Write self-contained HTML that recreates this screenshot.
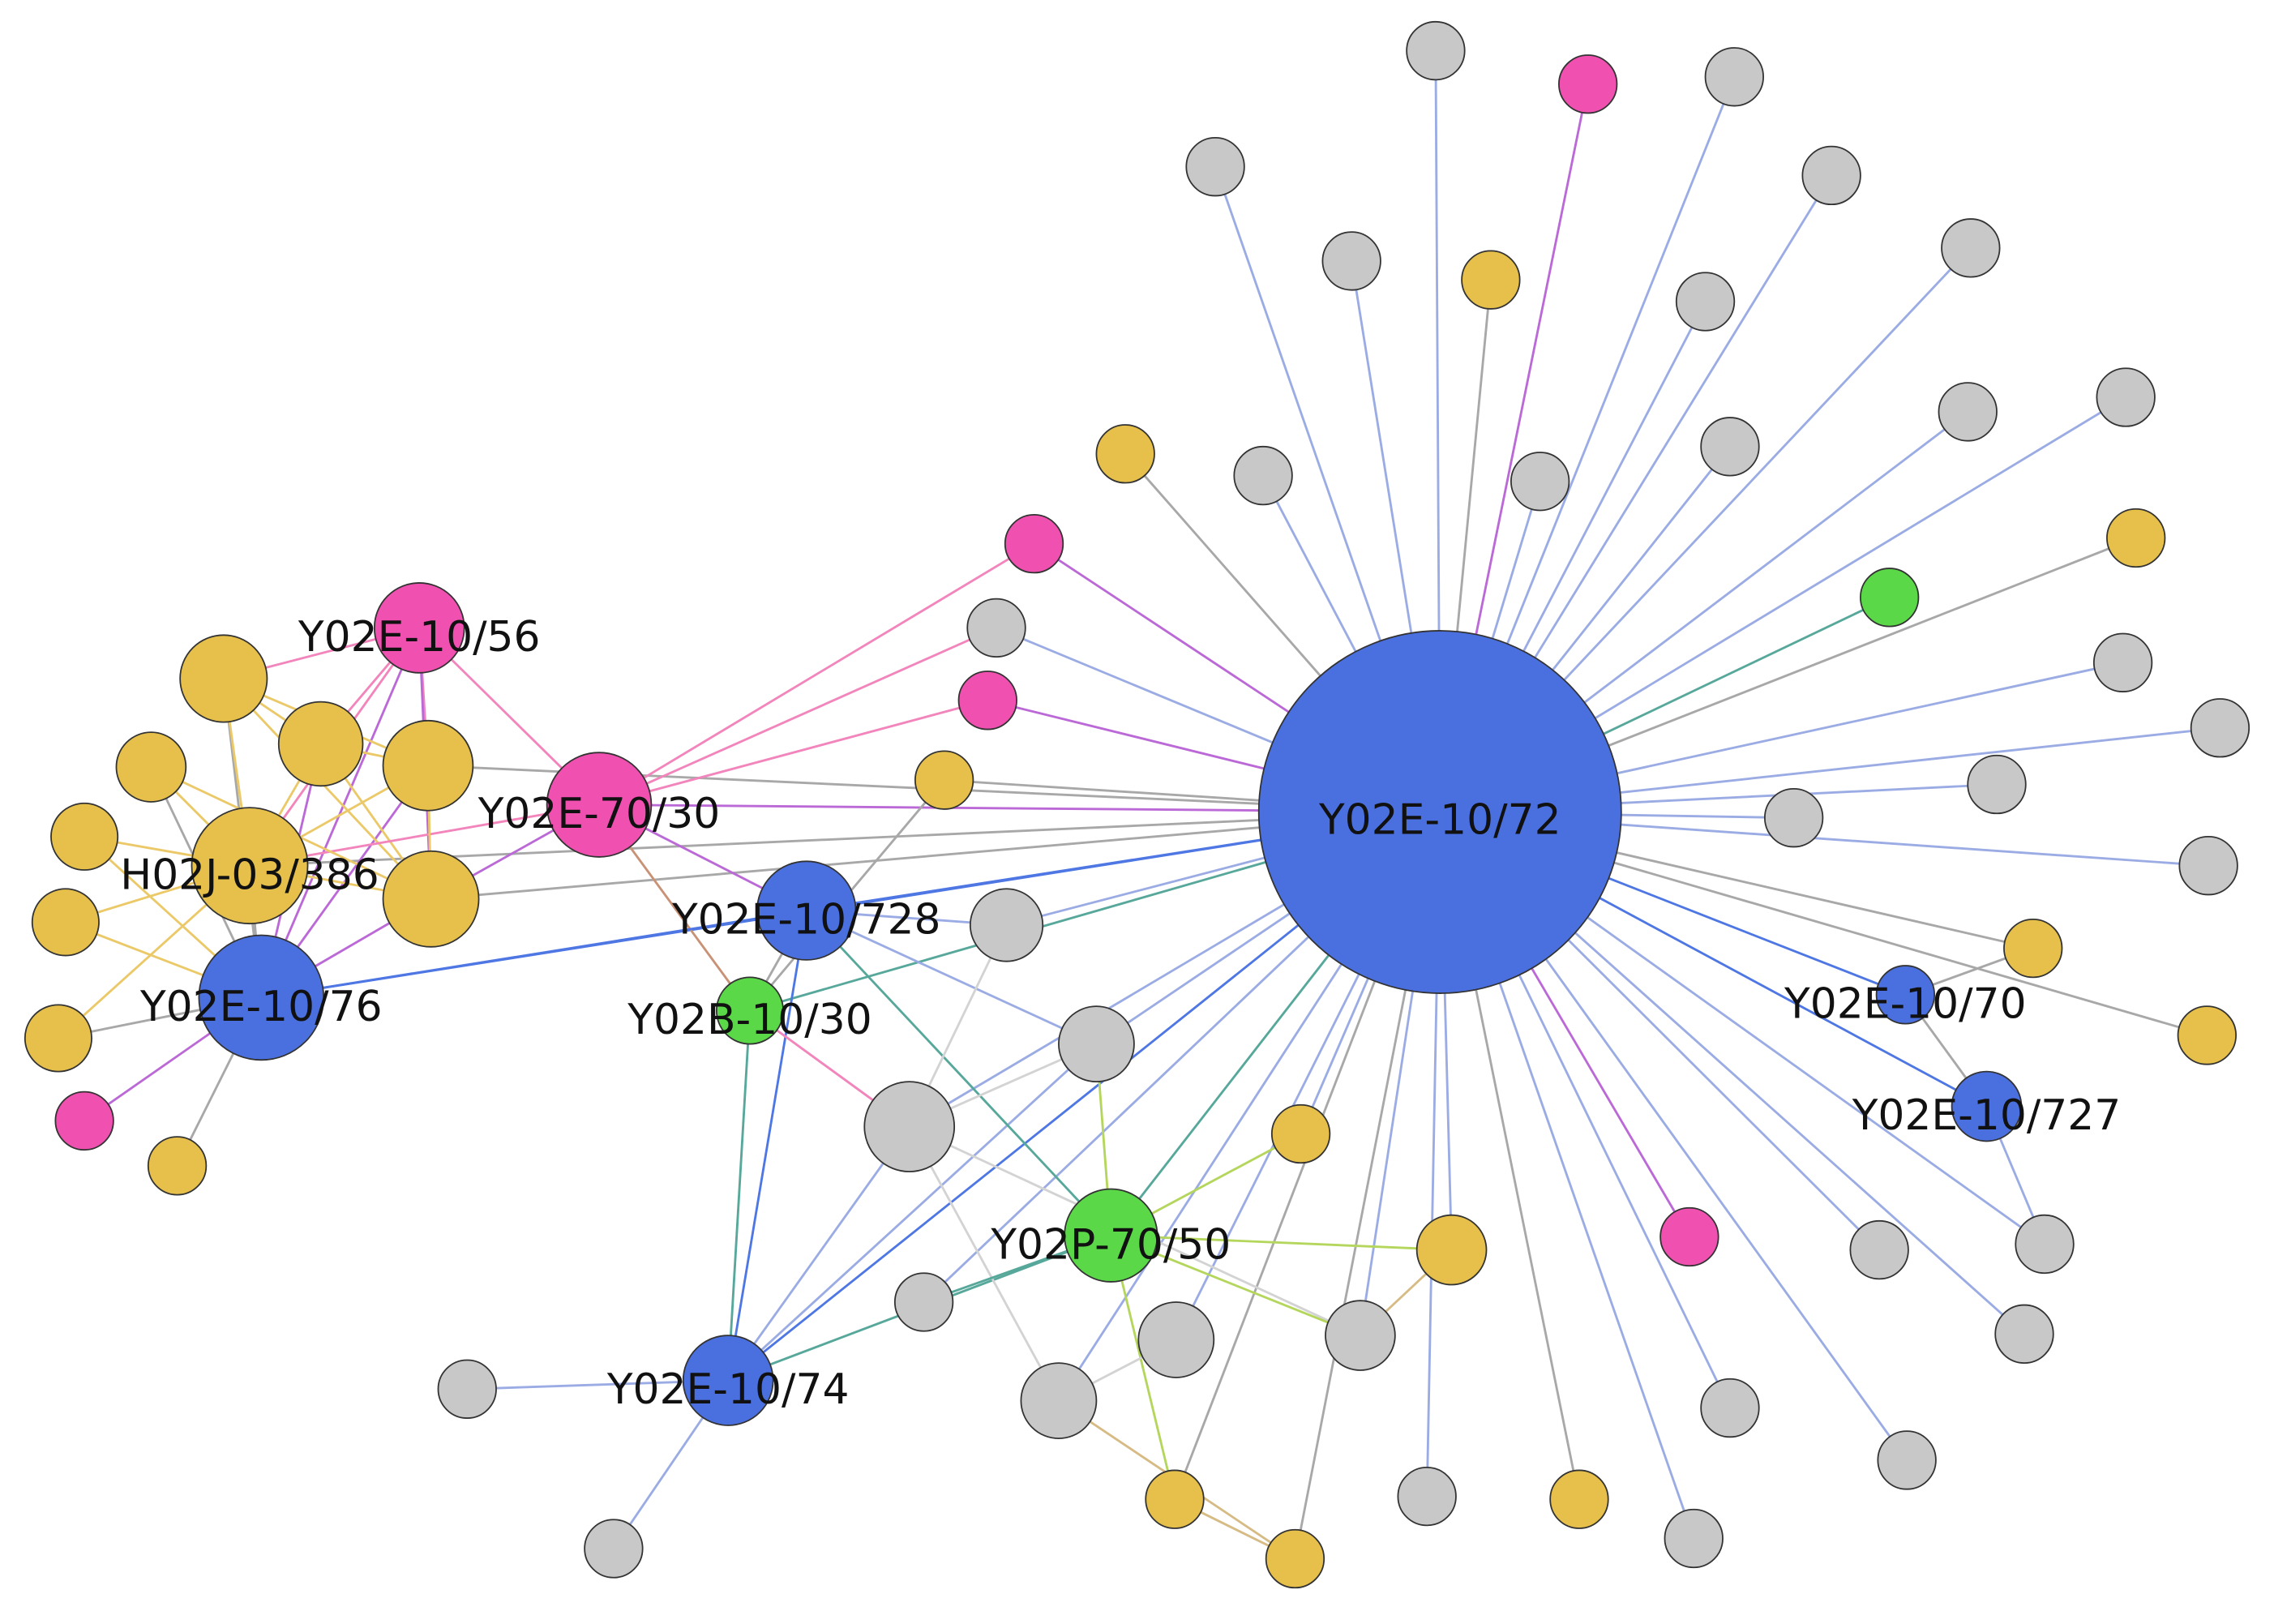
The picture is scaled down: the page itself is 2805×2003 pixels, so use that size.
<!DOCTYPE html>
<html><head><meta charset="utf-8"><style>
html,body{margin:0;padding:0;background:#fff;}
svg{display:block;}
text{font-family:"DejaVu Sans","Liberation Sans",sans-serif;font-size:29px;fill:#111;}
</style></head><body>
<svg width="2805" height="2003" viewBox="0 0 1568 1120" xmlns="http://www.w3.org/2000/svg">
<rect width="1568" height="1120" fill="#fff"/>
<g id="edges" stroke-width="1.6" fill="none" opacity="0.85"></g>
<g id="nodes" stroke="#333" stroke-width="1"></g>
<g id="labels"></g>
<script>
const H=[993,560];
const B='#8a9ee0',G='#999',P='#b050d0',K='#f070b0',T='#3a9a8a',Y='#e8c050',L='#a8d040',DB='#3060e0',LG='#ccc';
const N={};
function n(id,x,y,r,c){N[id]=[x,y,r,c];}
const gray='#c8c8c8',yel='#e6c04a',pink='#f050b0',blue='#4a70e0',grn='#5ad848';
n('hub',993,560,125,blue);
const ring=[['a',990,35,gray,B],['b',1095,58,pink,P],['c',1196,53,gray,B],['d',838,115,gray,B],['e',1263,121,gray,B],['f',932,180,gray,B],['g',1028,193,yel,G],['h',1176,208,gray,B],['i',1359,171,gray,B],['j',776,313,yel,G],['k',871,328,gray,B],['l',1062,332,gray,B],['m',1193,308,gray,B],['o',1357,284,gray,B],['p',1466,274,gray,B],['q',1473,371,yel,G],['r',1303,412,grn,T],['s',1464,457,gray,B],['t',1531,502,gray,B],['u',1377,541,gray,B],['v',1237,564,gray,B],['w',1523,597,gray,B],['x',1402,654,yel,G],['y',1522,714,yel,G],['z',1410,858,gray,B],['A',1396,920,gray,B],['C',1296,862,gray,B],['D',1165,853,pink,P],['E',1315,1007,gray,B],['F',1193,971,gray,B],['Gg',1168,1061,gray,B],['Hh',1089,1034,yel,G],['I',984,1032,gray,B],['J',893,1075,yel,G],['Kk',810,1034,yel,G],['Ll',938,921,gray,B],['M',1001,862,yel,B],['Nn',897,782,yel,B],['O',811,924,gray,B],['Pp',730,966,gray,B],['Q',637,898,gray,B],['R',627,777,gray,B],['S',756,720,gray,B],['Tt',694,638,gray,B],['U',713,375,pink,P],['V',687,433,gray,B],['W',681,483,pink,P],['X',651,538,yel,G]];
const edges=[];
ring.forEach(a=>{n(a[0],a[1],a[2],20,a[3]);edges.push([a[0],'hub',a[4]]);});
N.O[2]=26;N.Pp[2]=26;N.R[2]=31;N.S[2]=26;N.Tt[2]=25;N.M[2]=24;N.Ll[2]=24;
n('b70',1314,686,20,blue);n('b727',1370,763,24,blue);
n('p50',766,852,32,grn);n('b728',556,628,34,blue);n('g30',517,697,23,grn);
n('b74',502,952,31,blue);n('g74a',322,958,20,gray);n('g74b',423,1068,20,gray);
n('p7030',413,555,36,pink);n('p56',289,433,31,pink);
n('c1',154,468,30,yel);n('c2',221,513,29,yel);n('c3',295,528,31,yel);n('c4',104,529,24,yel);n('c5',58,577,23,yel);n('h02',172,597,40,yel);n('c6',297,620,33,yel);n('c7',45,636,23,yel);n('b76',180,688,43,blue);n('c8',40,716,23,yel);n('c9',58,773,20,pink);n('c10',122,804,20,yel);
edges.push(['b70','hub',DB],['b727','hub',DB],['b70','b727',G],['b727','z',B],['b70','x',G],['b728','hub',DB],['b74','hub',DB],['g30','hub',T],['p50','hub',T],['b76','hub',DB],['p7030','hub',P],['c3','hub',G],['c6','hub',G],['h02','hub',G],['p56','p7030',K],
['p7030','U',K],['p7030','V',K],['p7030','W',K],['p7030','b728',P],['p7030','g30','#c08060'],['b728','g30',G],['b728','b74',DB],['g30','b74',T],['b74','g74a',B],['b74','g74b',B],['b74','p50',T],['b74','R',B],['b74','S',B],['b728','S',B],['b728','p50',T],['b728','Tt',B],['X','g30',G],['Tt','R',LG],['S','R',LG],['R','Pp',LG],['R','Ll',LG],['S','p50',L],['p50','Nn',L],['p50','M',L],['p50','Ll',L],['p50','Kk',L],['p50','Q',T],['O','Pp',LG],['Pp','J','#d0b070'],['Kk','J','#d0b070'],['Ll','M','#d0b070'],['g30','R',K],
['b76','c1',G],['b76','c2',P],['b76','c3',P],['b76','c4',G],['b76','c5',Y],['b76','h02',G],['b76','c6',P],['b76','c7',Y],['b76','c8',G],['b76','c9',P],['b76','c10',G],['b76','p56',P],['b76','b728',DB],
['p56','c1',K],['p56','c2',K],['p56','c3',K],['p56','h02',K],['p56','c6',P],['h02','c1',Y],['h02','c2',Y],['h02','c3',Y],['h02','c4',Y],['h02','c5',Y],['h02','c6',Y],['h02','c7',Y],['h02','c8',Y],['c1','c2',Y],['c1','c3',Y],['c2','c3',Y],['c2','c6',Y],['c1','c6',Y],['h02','p7030',K],['c6','p7030',P],['c3','c6',Y],['c4','c6',Y]);
const NS='http://www.w3.org/2000/svg';
const eg=document.getElementById('edges'),ng=document.getElementById('nodes'),lg=document.getElementById('labels');
edges.forEach(e=>{const a=N[e[0]],b=N[e[1]];if(!a||!b)return;const l=document.createElementNS(NS,'line');l.setAttribute('x1',a[0]);l.setAttribute('y1',a[1]);l.setAttribute('x2',b[0]);l.setAttribute('y2',b[1]);l.setAttribute('stroke',e[2]);eg.appendChild(l);});
Object.keys(N).filter(k=>k!='hub').concat(['hub']).forEach(k=>{const a=N[k];const c=document.createElementNS(NS,'circle');c.setAttribute('cx',a[0]);c.setAttribute('cy',a[1]);c.setAttribute('r',a[2]);c.setAttribute('fill',a[3]);ng.appendChild(c);});
[['Y02E-10/72',993,575],['Y02E-10/56',289,449],['Y02E-70/30',413,571],['H02J-03/386',172,613],['Y02E-10/76',180,704],['Y02E-10/728',556,644],['Y02B-10/30',517,713],['Y02P-70/50',766,868],['Y02E-10/74',502,968],['Y02E-10/70',1314,702],['Y02E-10/727',1370,779]].forEach(t=>{const x=document.createElementNS(NS,'text');x.setAttribute('x',t[1]);x.setAttribute('y',t[2]);x.setAttribute('text-anchor','middle');x.textContent=t[0];lg.appendChild(x);});
</script>
</svg>
</body></html>
